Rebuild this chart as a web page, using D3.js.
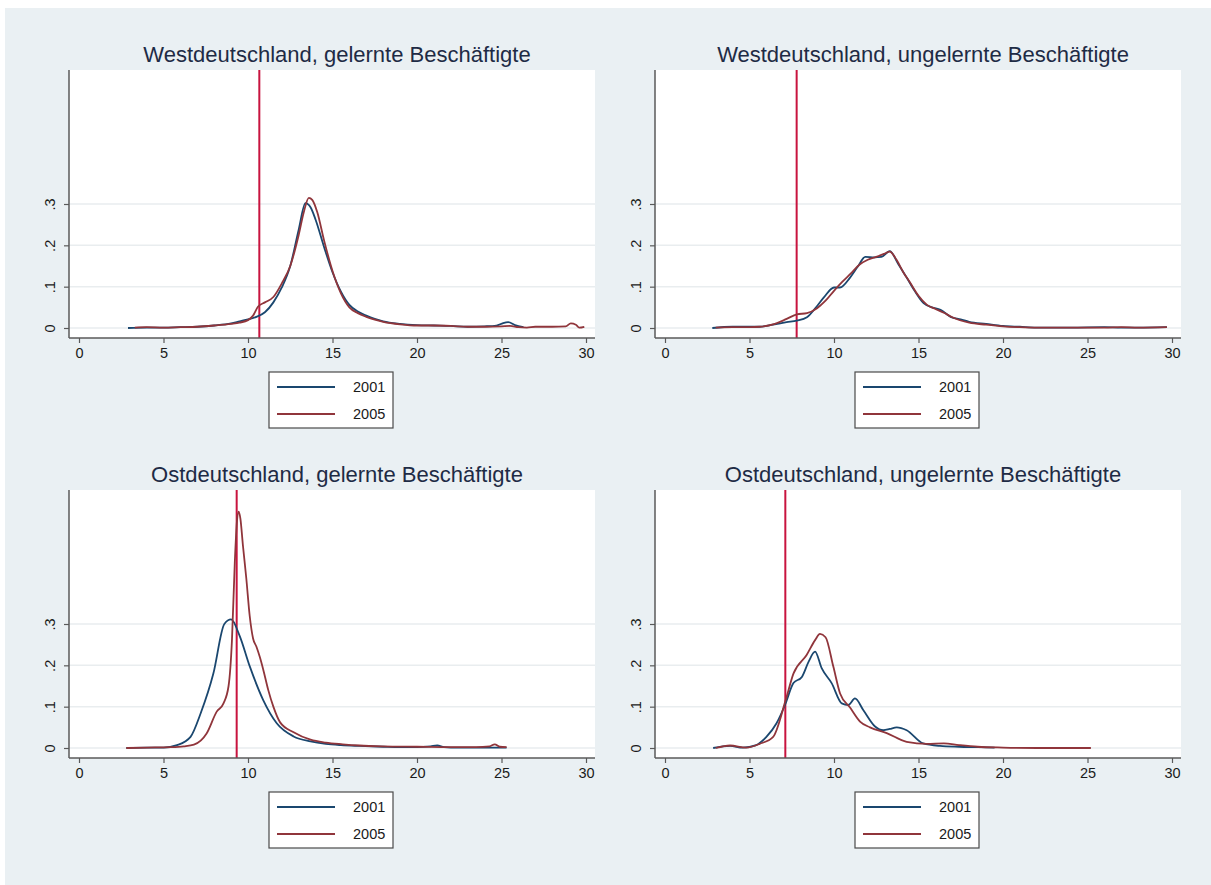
<!DOCTYPE html>
<html>
<head>
<meta charset="utf-8">
<script src="https://cdn.jsdelivr.net/npm/d3@7"></script>
<style>
  html, body { margin: 0; padding: 0; background: #ffffff; }
  svg { display: block; font-family: "Liberation Sans", Arial, sans-serif; }
</style>
</head>
<body>
<svg id="chart" width="1211" height="885"></svg>
<script>
// ---------------- data ----------------
const panelTitles = [
  "Westdeutschland, gelernte Beschäftigte",
  "Westdeutschland, ungelernte Beschäftigte",
  "Ostdeutschland, gelernte Beschäftigte",
  "Ostdeutschland, ungelernte Beschäftigte"
];
const years = ["2001", "2005"];
const xTicks = [0, 5, 10, 15, 20, 25, 30];
const yTicks = [0, 0.1, 0.2, 0.3];
const yTickLabels = ["0", ".1", ".2", ".3"];
const cutoffs = [10.67, 7.79, 9.33, 7.12];

const wg2001 = [[2.9,0],[4,0.001],[5,0.001],[6,0.002],[7,0.003],[8,0.006],[9,0.011],[9.5,0.016],[10,0.021],[10.5,0.027],[11,0.038],[11.5,0.062],[12,0.098],[12.5,0.15],[13,0.238],[13.4,0.302],[13.7,0.292],[14,0.262],[14.5,0.196],[15,0.135],[15.5,0.088],[16,0.056],[16.5,0.04],[17,0.03],[17.5,0.022],[18,0.016],[19,0.01],[20,0.007],[21,0.006],[22,0.005],[23,0.003],[24,0.004],[24.7,0.006],[25.1,0.012],[25.4,0.014],[25.8,0.007],[26.3,0.002]];
const wg2005 = [[3.3,0.001],[4,0.002],[5,0.001],[6,0.002],[7,0.003],[8,0.006],[9,0.01],[9.5,0.013],[10,0.019],[10.3,0.03],[10.6,0.052],[11,0.062],[11.5,0.075],[12,0.108],[12.5,0.15],[13,0.225],[13.3,0.28],[13.6,0.315],[13.8,0.31],[14.1,0.28],[14.5,0.212],[15,0.138],[15.5,0.084],[16,0.05],[16.5,0.036],[17,0.027],[17.5,0.02],[18,0.015],[19,0.009],[20,0.006],[21,0.006],[22,0.005],[23,0.003],[24,0.003],[25,0.004],[25.5,0.005],[26,0.002],[26.5,0.001],[27,0.003],[28,0.003],[28.8,0.004],[29.1,0.011],[29.4,0.008],[29.6,0.001],[29.9,0.003]];
const wu2001 = [[2.8,0],[4,0.003],[5,0.003],[5.6,0.003],[6.4,0.008],[7.2,0.014],[7.8,0.018],[8.4,0.026],[8.9,0.048],[9.4,0.074],[10,0.098],[10.35,0.098],[10.95,0.122],[11.4,0.148],[11.85,0.172],[12.4,0.171],[12.8,0.172],[13.3,0.186],[13.8,0.155],[14.3,0.122],[14.8,0.088],[15.3,0.06],[15.8,0.05],[16.3,0.044],[16.9,0.027],[17.5,0.021],[18,0.015],[19,0.01],[20,0.005],[21,0.003],[22,0.001],[24,0.001],[26,0.002],[27,0.001],[28,0.001],[29.7,0.002]];
const wu2005 = [[3,0.001],[4,0.002],[5,0.002],[5.6,0.003],[6.5,0.01],[7.2,0.022],[7.8,0.033],[8.4,0.036],[9,0.048],[9.5,0.066],[10,0.09],[10.5,0.112],[11,0.132],[11.5,0.153],[12,0.165],[12.5,0.172],[13,0.18],[13.3,0.185],[13.7,0.165],[14.1,0.135],[14.5,0.11],[15,0.078],[15.5,0.056],[16,0.046],[16.5,0.037],[17,0.026],[18,0.013],[19,0.008],[20,0.004],[21,0.002],[22,0.001],[24,0.001],[26,0.001],[27,0.002],[28,0.001],[29.7,0.002]];
const og2001 = [[2.8,0],[4,0.001],[5,0.001],[5.8,0.007],[6.6,0.027],[7.2,0.084],[7.95,0.18],[8.6,0.3],[9.0,0.311],[9.5,0.272],[10.1,0.198],[10.9,0.116],[11.7,0.06],[12.7,0.028],[13.7,0.016],[14.6,0.01],[15.5,0.007],[16.6,0.005],[18,0.003],[19,0.002],[20,0.002],[20.8,0.004],[21.2,0.006],[21.6,0.002],[22,0.001],[23,0.001],[25.3,0.001]];
const og2005 = [[2.8,0],[4,0.001],[5.4,0.002],[6.2,0.004],[6.8,0.008],[7.55,0.035],[8.15,0.088],[8.55,0.108],[8.85,0.15],[9.05,0.26],[9.22,0.45],[9.35,0.55],[9.45,0.572],[9.55,0.555],[9.7,0.49],[9.9,0.41],[10.1,0.32],[10.3,0.265],[10.5,0.245],[10.7,0.22],[10.9,0.19],[11.2,0.14],[11.5,0.1],[11.9,0.062],[12.7,0.038],[13.7,0.02],[14.6,0.013],[15.6,0.009],[16.6,0.006],[18,0.004],[20,0.003],[22,0.002],[23.5,0.002],[24.3,0.004],[24.6,0.009],[24.9,0.003],[25.3,0.002]];
const ou2001 = [[2.85,0],[3.85,0.005],[4.6,0.001],[5.4,0.007],[6.0,0.027],[6.6,0.06],[7.1,0.104],[7.6,0.157],[8.1,0.172],[8.5,0.209],[8.88,0.233],[9.27,0.193],[9.86,0.157],[10.46,0.108],[10.85,0.104],[11.24,0.12],[11.73,0.092],[12.43,0.052],[12.92,0.043],[13.3,0.046],[13.71,0.05],[14.3,0.043],[15.28,0.011],[16.27,0.005],[17.4,0.003],[18.5,0.002],[19.5,0.001]];
const ou2005 = [[3.0,0],[3.85,0.006],[4.8,0.001],[5.6,0.01],[6.4,0.027],[7.14,0.116],[7.6,0.18],[8.38,0.225],[8.88,0.261],[9.17,0.276],[9.5,0.268],[9.96,0.197],[10.36,0.132],[10.95,0.098],[11.54,0.064],[12.13,0.05],[13.12,0.036],[14.3,0.015],[15.5,0.01],[16.5,0.011],[17.4,0.007],[18.5,0.003],[20,0.001],[22,0],[25.2,0]];

const series2001 = [wg2001, wu2001, og2001, ou2001];
const series2005 = [wg2005, wu2005, og2005, ou2005];

// ---------------- styles / layout ----------------
const W = 1211, H = 885;
const colors = ["#1a476f", "#90353b"];
const vlineColor = "#c8143f";
const bg = "#eaf0f3";
const panelDX = 586, panelDY = 420;
const offsets = [[0,0],[panelDX,0],[0,panelDY],[panelDX,panelDY]];

const svg = d3.select("#chart");
svg.append("rect").attr("x",0).attr("y",0).attr("width",W).attr("height",H).attr("fill","#ffffff");
svg.append("rect").attr("x",5).attr("y",8).attr("width",W-5).attr("height",H-8).attr("fill",bg);

panelTitles.forEach((title, i) => {
  const [dx, dy] = offsets[i];
  const g = svg.append("g").attr("transform", `translate(${dx},${dy})`);
  const plotL = 69, plotR = 595, plotT = 70, plotB = 338;
  const x = d3.scaleLinear().domain([0, 30]).range([79, 586]);
  const y = d3.scaleLinear().domain([0, 0.3]).range([328, 204]);

  // plot region
  g.append("rect").attr("x", plotL).attr("y", plotT)
    .attr("width", plotR - plotL).attr("height", plotB - plotT).attr("fill", "#ffffff");

  // gridlines
  g.selectAll("line.grid").data(yTicks).enter().append("line")
    .attr("x1", plotL).attr("x2", plotR)
    .attr("y1", d => y(d)).attr("y2", d => y(d))
    .attr("stroke", "#e9edef").attr("stroke-width", 1.5);

  // title
  g.append("text").attr("x", 337).attr("y", 62)
    .attr("text-anchor", "middle").attr("font-size", 22)
    .attr("fill", "#1e2b45").text(title);

  // vertical cutoff line
  g.append("line").attr("x1", x(cutoffs[i])).attr("x2", x(cutoffs[i]))
    .attr("y1", plotT).attr("y2", plotB)
    .attr("stroke", vlineColor).attr("stroke-width", 2);

  // curves
  const line = d3.line().x(d => x(d[0])).y(d => y(d[1])).curve(d3.curveMonotoneX);
  [series2001[i], series2005[i]].forEach((s, k) => {
    g.append("path").datum(s).attr("d", line)
      .attr("fill", "none").attr("stroke", colors[k]).attr("stroke-width", 1.8)
      .attr("stroke-linejoin", "round");
  });

  // x axis
  const xAxis = d3.axisBottom(x).tickValues(xTicks).tickSize(5).tickPadding(5).tickFormat(d3.format("d"));
  const gx = g.append("g").attr("transform", `translate(0,${plotB})`).call(xAxis);
  gx.select(".domain").remove();
  gx.append("line").attr("x1", plotL).attr("x2", plotR).attr("y1", 0).attr("y2", 0)
    .attr("stroke", "#5a5a5a").attr("stroke-width", 1.5);
  gx.selectAll(".tick line").attr("stroke", "#5a5a5a").attr("stroke-width", 1.2);
  gx.selectAll(".tick text").attr("font-size", 14.5).attr("fill", "#1a1a1a")
    .attr("font-family", "Liberation Sans, Arial, sans-serif");

  // y axis
  const yAxis = d3.axisLeft(y).tickValues(yTicks).tickSize(5).tickFormat((d, j) => yTickLabels[j]);
  const gy = g.append("g").attr("transform", `translate(${plotL},0)`).call(yAxis);
  gy.select(".domain").remove();
  gy.append("line").attr("x1", 0).attr("x2", 0).attr("y1", plotT).attr("y2", plotB)
    .attr("stroke", "#5a5a5a").attr("stroke-width", 1.5);
  gy.selectAll(".tick line").attr("stroke", "#5a5a5a").attr("stroke-width", 1.2);
  gy.selectAll(".tick text")
    .attr("font-size", 14.5).attr("fill", "#1a1a1a")
    .attr("font-family", "Liberation Sans, Arial, sans-serif")
    .attr("x", null).attr("dy", null)
    .attr("text-anchor", "middle")
    .attr("transform", "translate(-14,0) rotate(-90)");

  // legend
  const lg = g.append("g");
  lg.append("rect").attr("x", 269).attr("y", 372).attr("width", 124).attr("height", 56)
    .attr("fill", "#ffffff").attr("stroke", "#4a4a4a").attr("stroke-width", 1.2);
  years.forEach((yr, k) => {
    const ly = 387 + k * 27;
    lg.append("line").attr("x1", 277).attr("x2", 335).attr("y1", ly).attr("y2", ly)
      .attr("stroke", colors[k]).attr("stroke-width", 1.8);
    lg.append("text").attr("x", 353).attr("y", ly + 5).attr("font-size", 14.5)
      .attr("fill", "#1a1a1a").text(yr);
  });
});
</script>
</body>
</html>
